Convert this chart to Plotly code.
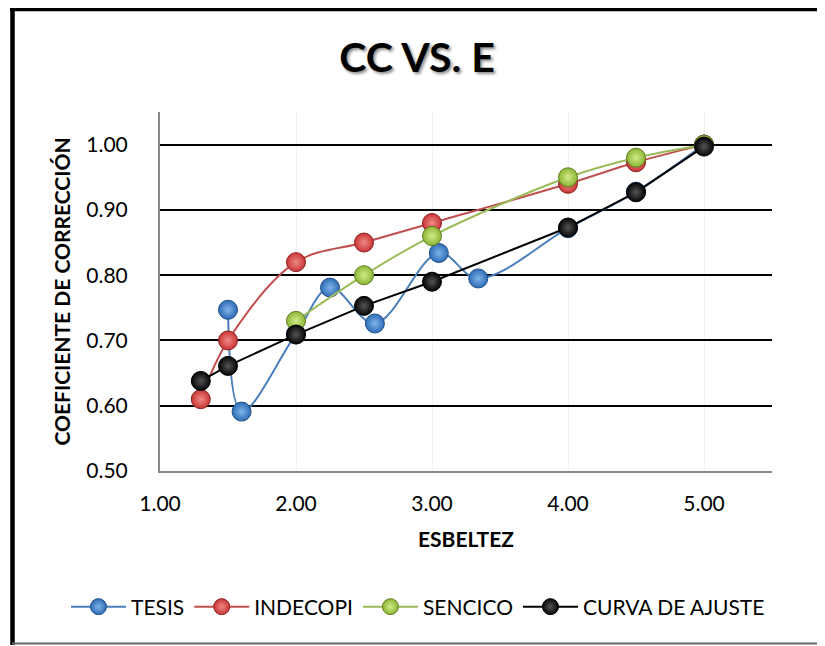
import plotly.graph_objects as go

# ---- data ----
tesis_x = [1.5, 1.6, 2.0, 2.25, 2.58, 3.05, 3.34, 4.0, 4.5, 5.0]
tesis_y = [0.747, 0.591, 0.71, 0.781, 0.726, 0.834, 0.795, 0.872, 0.928, 1.0]

indecopi_x = [1.3, 1.5, 2.0, 2.5, 3.0, 4.0, 4.5, 5.0]
indecopi_y = [0.61, 0.70, 0.82, 0.85, 0.88, 0.94, 0.973, 1.0]

sencico_x = [2.0, 2.5, 3.0, 4.0, 4.5, 5.0]
sencico_y = [0.73, 0.80, 0.86, 0.95, 0.98, 1.0]

curva_x = [1.3, 1.5, 2.0, 2.5, 3.0, 4.0, 4.5, 5.0]
curva_y = [0.638, 0.661, 0.709, 0.753, 0.790, 0.873, 0.927, 0.997]

x_ticks = [1, 2, 3, 4, 5]
y_ticks = [0.5, 0.6, 0.7, 0.8, 0.9, 1.0]

FONT = "Lato, 'Open Sans', sans-serif"

fig = go.Figure()

def add(name, xs, ys, line_c, mark_c, edge_c, hl, shape):
    fig.add_trace(go.Scatter(
        x=xs, y=ys, name=name, mode="lines+markers",
        line=dict(color=line_c, width=2, shape=shape, smoothing=1.0),
        marker=dict(size=19, color=mark_c,
                    gradient=dict(type="radial", color=hl),
                    line=dict(color=edge_c, width=1)),
    ))

add("TESIS", tesis_x, tesis_y, "#4a7ebb", "#2f6db5", "#1f4e8a", "#7fb2ea", "spline")
add("INDECOPI", indecopi_x, indecopi_y, "#c0504d", "#c93535", "#8a2222", "#ee8a85", "spline")
add("SENCICO", sencico_x, sencico_y, "#9bbb59", "#8db534", "#5f7d22", "#d0ec8a", "spline")
add("CURVA DE AJUSTE", curva_x, curva_y, "#000000", "#050505", "#000000", "#555555", "linear")

# page offset of the plot div (browser body margin)
OFF = 8
FW, FH = 825 - OFF, 646 - OFF
L, T, W, H = 160 - OFF, 112 - OFF, 612, 359

def px(x): return (x - OFF - L) / W
def py(y): return (T + H - (y - OFF)) / H

shapes = [
    dict(type="line", xref="paper", yref="paper", x0=px(12.5), x1=px(12.5), y0=py(645), y1=py(7),
         line=dict(color="black", width=4.5)),
    dict(type="line", xref="paper", yref="paper", x0=px(10), x1=px(830), y0=py(9), y1=py(9),
         line=dict(color="black", width=4.5)),
    dict(type="line", xref="paper", yref="paper", x0=px(12), x1=px(830), y0=py(643.5), y1=py(643.5),
         line=dict(color="#666666", width=2)),
]

fig.update_layout(
    width=FW, height=FH,
    margin=dict(l=L, r=FW - L - W, t=T, b=FH - T - H, autoexpand=False),
    paper_bgcolor="white", plot_bgcolor="white",
    font=dict(family=FONT, color="black", size=21),
    title=dict(text="<b>CC VS. E</b>", x=(417 - OFF) / FW, xref="container", xanchor="center",
               y=1 - (58 - OFF) / FH, yref="container", yanchor="middle",
               font=dict(family=FONT, size=41, color="black",
                         shadow="2px 2px 3px rgba(0,0,0,0.45)")),
    xaxis=dict(range=[1, 5.5], tickvals=x_ticks, tickformat=".2f",
               showgrid=True, gridcolor="#f2f2f2", gridwidth=1,
               showline=True, linecolor="#888888", linewidth=2,
               ticks="", ticklabelstandoff=13, zeroline=False,
               tickfont=dict(size=21),
               title=dict(text="<b>ESBELTEZ</b>", font=dict(size=21), standoff=18)),
    yaxis=dict(range=[0.5, 1.05], tickvals=y_ticks, tickformat=".2f",
               showgrid=True, gridcolor="black", gridwidth=2,
               showline=True, linecolor="#888888", linewidth=2,
               ticks="", ticklabelstandoff=26, zeroline=False,
               tickfont=dict(size=21),
               title=dict(text="<b>COEFICIENTE DE CORRECCIÓN</b>", font=dict(size=21), standoff=10)),
    legend=dict(orientation="h", x=px(66), xanchor="left", y=py(607), yanchor="middle",
                font=dict(size=21), itemwidth=55, tracegroupgap=0, bgcolor="rgba(0,0,0,0)"),
    shapes=shapes,
    showlegend=True,
)

fig.write_html("out.html")
